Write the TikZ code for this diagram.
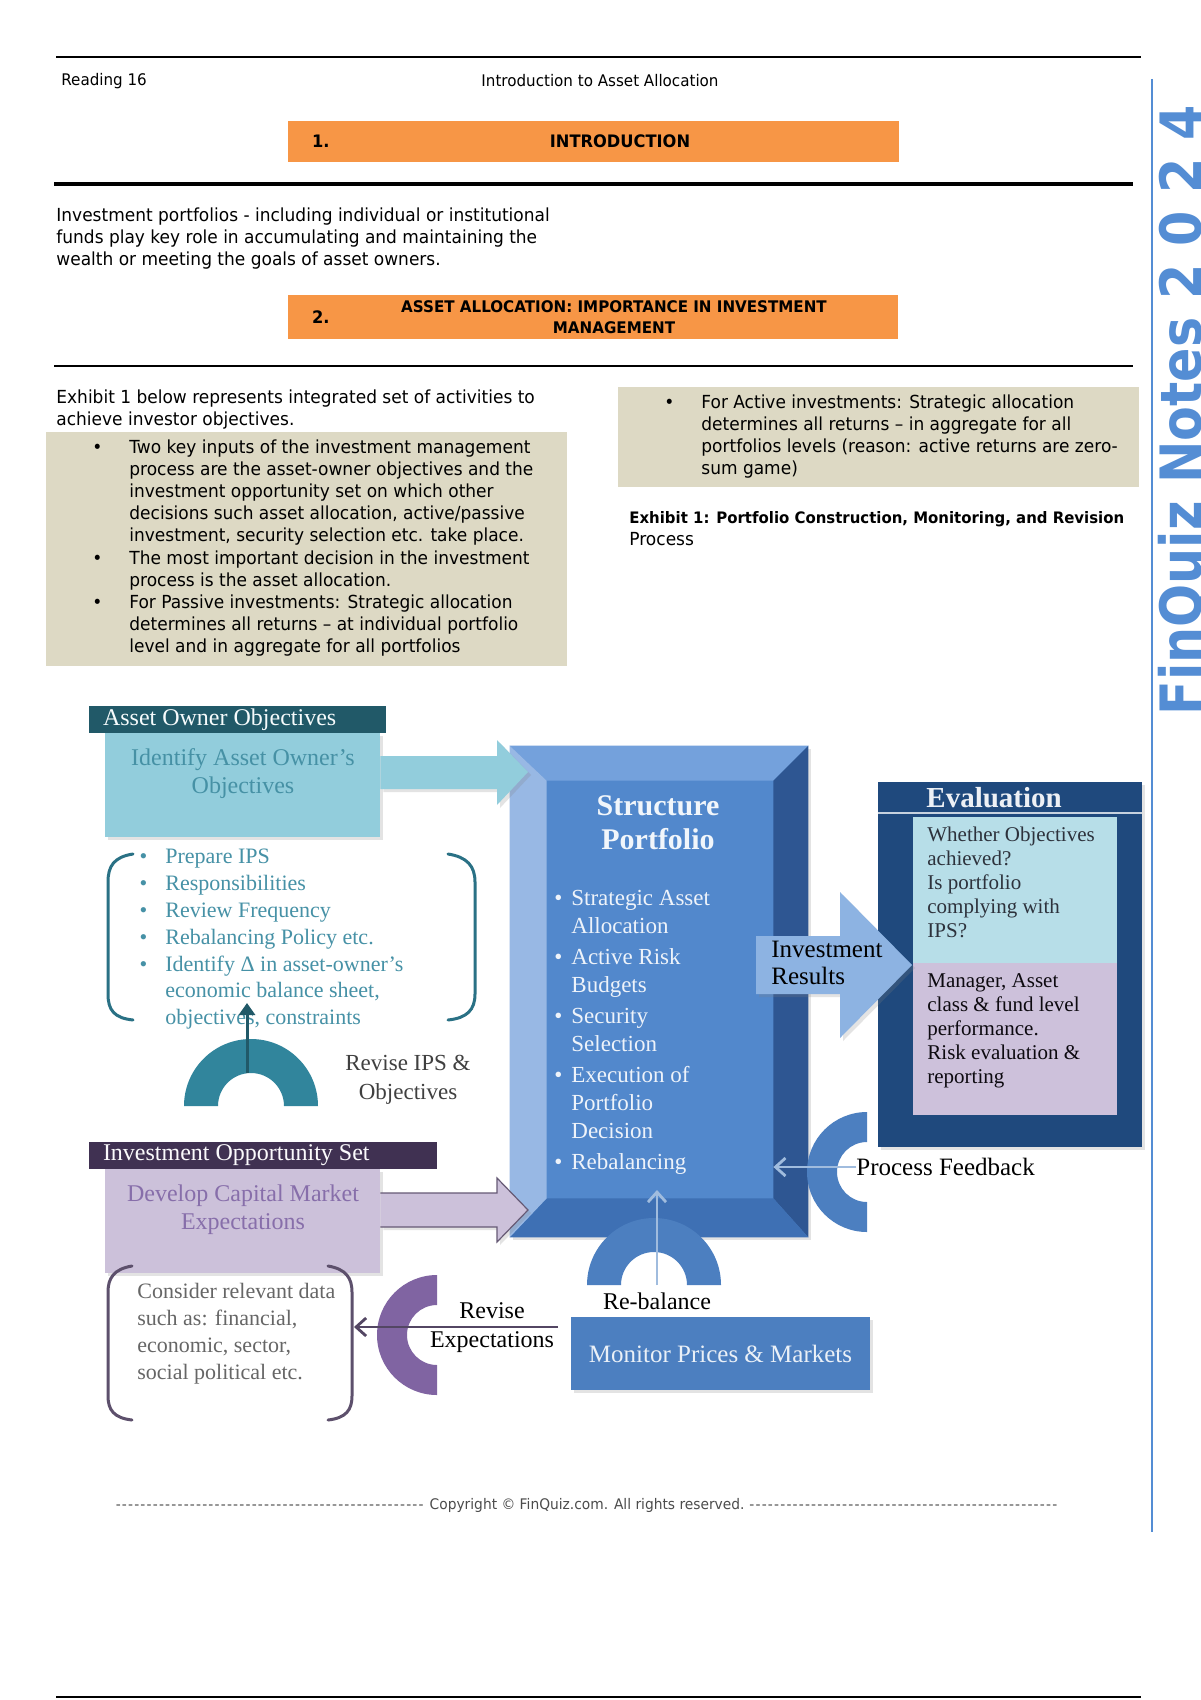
\documentclass[tikz,border=0pt]{standalone}
\usepackage{fontspec}
\setmainfont{Liberation Serif}
\newfontfamily\fqBody[FakeStretch=0.945]{DejaVu Sans}
\newfontfamily\fqBrand[FakeStretch=0.89]{DejaVu Sans}
\usepackage{xcolor}
\definecolor{fqOrange}{RGB}{247,150,70}
\definecolor{fqBeige}{RGB}{221,217,196}
\definecolor{fqBrandBlue}{RGB}{84,141,212}
\definecolor{fqTealDark}{RGB}{33,89,104}
\definecolor{fqTealLight}{RGB}{146,205,220}
\definecolor{fqTealText}{RGB}{70,145,165}
\definecolor{fqTeal}{RGB}{49,133,156}
\definecolor{fqPurpleDark}{RGB}{64,49,82}
\definecolor{fqPurpleLight}{RGB}{204,193,218}
\definecolor{fqPurpleText}{RGB}{135,110,170}
\definecolor{fqPurple}{RGB}{128,100,162}
\definecolor{fqFace}{RGB}{82,136,204}
\definecolor{fqBevelTop}{RGB}{116,161,220}
\definecolor{fqBevelLeft}{RGB}{152,184,228}
\definecolor{fqBevelRight}{RGB}{46,86,146}
\definecolor{fqBevelBottom}{RGB}{62,112,180}
\definecolor{fqNavy}{RGB}{31,73,125}
\definecolor{fqEvalTop}{RGB}{183,222,232}
\definecolor{fqEvalBottom}{RGB}{205,193,219}
\definecolor{fqArrowBlue}{RGB}{141,179,226}
\definecolor{fqMid}{RGB}{76,127,192}
\definecolor{fqPale}{RGB}{160,188,222}
\definecolor{fqInk}{RGB}{45,50,60}
\usepackage{tikz}
\usetikzlibrary{arrows.meta,positioning,fit,calc,shadows}

\newcommand{\fqDot}[1]{\leavevmode\llap{\textbullet\hspace{#1}}}

\begin{document}
\begin{tikzpicture}[
    x=0.5pt, y=-0.5pt,
    pageText/.style={
        font=\fqBody\fontsize{9}{11.1}\selectfont,
        align=left, anchor=north west, inner sep=0pt
    },
    headText/.style={font=\fqBody\fontsize{8}{10}\selectfont, inner sep=0pt},
    secBar/.style={fill=fqOrange, inner sep=0pt},
    secText/.style={
        font=\fqBody\bfseries\fontsize{8.6}{10.5}\selectfont,
        align=center, inner sep=0pt
    },
    noteBox/.style={fill=fqBeige, inner sep=0pt},
    softShadow/.style={
        drop shadow={opacity=0.22, shadow xshift=1.5pt, shadow yshift=-1.5pt}
    },
    tagBar/.style={inner sep=0pt},
    tagText/.style={
        font=\fontsize{12}{14}\selectfont, text=white!92!fqTealLight,
        anchor=west, inner sep=0pt
    },
    stageText/.style={font=\fontsize{12}{14}\selectfont, align=center, inner sep=0pt},
    listText/.style={
        font=\fontsize{11}{13.4}\selectfont,
        align=left, anchor=north west, inner sep=0pt
    },
    portText/.style={
        font=\fontsize{11.5}{14}\selectfont, text=white!90!fqFace,
        align=left, anchor=north west, inner sep=0pt
    },
    evalText/.style={
        font=\fontsize{10.5}{12}\selectfont, text=fqInk,
        align=left, anchor=north west, inner sep=0pt
    },
    labelText/.style={font=\fontsize{12}{14.5}\selectfont, align=center, inner sep=0pt},
    bracketLine/.style={line width=1.5pt, line cap=round},
    flowArrow/.style={line width=1.4pt, -{Straight Barb[length=5pt, width=9pt]}}
]

    % page frame
    \fill[white] (0,0) rectangle (1200,1700);
    \useasboundingbox (0,0) rectangle (1200,1700);

    % header
    \draw[line width=1pt] (56,57) -- (1141,57);
    \node[headText, anchor=west] (readingNo) at (61,81) {Reading 16};
    \node[headText] (readingTitle) at (600,81) {Introduction to Asset Allocation};

    \node[secBar, fit={(288,121) (899,162)}] (secOne) {};
    \node[secText, anchor=west] at ($(secOne.west)+(24,0)$) {1.};
    \node[secText] at (620,141.5) {INTRODUCTION};
    \draw[line width=1.6pt] (54,184) -- (1133,184);

    \node[pageText] (introPara) at (56,207) {Investment portfolios - including individual or institutional\\
        funds play key role in accumulating and maintaining the\\
        wealth or meeting the goals of asset owners.};

    \node[secBar, fit={(288,295) (898,339)}] (secTwo) {};
    \node[secText, anchor=west] at ($(secTwo.west)+(24,0)$) {2.};
    \node[secText, font=\fqBody\bfseries\fontsize{8}{10.5}\selectfont] at (614,317)
        {ASSET ALLOCATION: IMPORTANCE IN INVESTMENT\\MANAGEMENT};
    \draw[line width=1.3pt] (54,366) -- (1133,366);

    % side brand
    \draw[fqBrandBlue, line width=1.3pt] (1152,79) -- (1152,1532);
    \node[font=\fqBrand\bfseries\fontsize{28.5}{30}\selectfont, text=fqBrandBlue, rotate=90,
        anchor=base west, inner sep=0pt] (brand) at (1201,716) {FinQuiz Notes 2 0 2 4};

    % notes
    \node[pageText] (exhibitIntro) at (56,389) {Exhibit 1 below represents integrated set of activities to\\
        achieve investor objectives.};

    \node[noteBox, fit={(46,432) (567,666)}] (passiveNote) {};
    \node[pageText] at (129,439) {\fqDot{13.5pt}Two key inputs of the investment management\\
        process are the asset-owner objectives and the\\
        investment opportunity set on which other\\
        decisions such asset allocation, active/passive\\
        investment, security selection etc. take place.\\
        \fqDot{13.5pt}The most important decision in the investment\\
        process is the asset allocation.\\
        \fqDot{13.5pt}For Passive investments: Strategic allocation\\
        determines all returns – at individual portfolio\\
        level and in aggregate for all portfolios};

    \node[noteBox, fit={(618,387) (1139,487)}] (activeNote) {};
    \node[pageText] at (701,394) {\fqDot{13.5pt}For Active investments: Strategic allocation\\
        determines all returns – in aggregate for all\\
        portfolios levels (reason: active returns are zero-\\
        sum game)};

    \node[pageText] (exhibitTitle) at (629,511)
        {{\bfseries\fontsize{7.9}{11.1}\selectfont Exhibit 1: Portfolio Construction, Monitoring, and Revision}\\Process};

    % structure portfolio (bevelled block)
    \node[fit={(510,746) (808,1237)}, inner sep=0pt, fill=fqFace, softShadow] (portfolio) {};
    \node[fit={(547,781) (773,1198)}, inner sep=0pt] (portFace) {};
    \fill[fqBevelTop] (portfolio.north west) -- (portfolio.north east)
        -- (portFace.north east) -- (portFace.north west) -- cycle;
    \fill[fqBevelRight] (portfolio.north east) -- (portfolio.south east)
        -- (portFace.south east) -- (portFace.north east) -- cycle;
    \fill[fqBevelBottom] (portfolio.south west) -- (portfolio.south east)
        -- (portFace.south east) -- (portFace.south west) -- cycle;
    \fill[fqBevelLeft] (portfolio.north west) -- (portfolio.south west)
        -- (portFace.south west) -- (portFace.north west) -- cycle;
    \node[font=\bfseries\fontsize{15}{17}\selectfont, text=white!92!fqFace, align=center,
        inner sep=0pt] (portTitle) at (658,823) {Structure\\Portfolio};
    \node[portText] (portList) at (571,890) {\fqDot{4.5pt}Strategic Asset\\Allocation\\[1.5pt]
        \fqDot{4.5pt}Active Risk\\Budgets\\[1.5pt]
        \fqDot{4.5pt}Security\\Selection\\[1.5pt]
        \fqDot{4.5pt}Execution of\\Portfolio\\Decision\\[1.5pt]
        \fqDot{4.5pt}Rebalancing};

    % evaluation
    \node[fit={(878,782) (1142,1147)}, inner sep=0pt, fill=fqNavy, softShadow] (evalBox) {};
    \draw[white!75!fqNavy, line width=0.8pt] (evalBox.west |- 0,813) -- (evalBox.east |- 0,813);
    \node[font=\bfseries\fontsize{14.5}{16}\selectfont, text=white!92!fqNavy, anchor=west,
        inner sep=0pt] (evalTitle) at (926,798) {Evaluation};
    \node[fit={(913,817) (1117,963)}, inner sep=0pt, fill=fqEvalTop] (evalCheck) {};
    \node[fit={(913,963) (1117,1115)}, inner sep=0pt, fill=fqEvalBottom] (evalPerf) {};
    \node[evalText] at (927,827) {Whether Objectives\\achieved?\\Is portfolio\\complying with\\IPS?};
    \node[evalText, text=black!80!fqPurpleDark] at (927,973)
        {Manager, Asset\\class \& fund level\\performance.\\Risk evaluation \&\\reporting};

    % asset owner objectives
    \node[fit={(105,733) (380,837)}, inner sep=0pt, fill=fqTealLight, softShadow] (ownerBox) {};
    \fill[fqTealLight, softShadow] (ownerBox.east |- 0,756) -- (497,756) -- (497,740)
        -- (528,772) -- (497,805) -- (497,789) -- (ownerBox.east |- 0,789) -- cycle;
    \node[tagBar, fill=fqTealDark, fit={(89,706) (386,733)}] (ownerTag) {};
    \node[tagText] at ($(ownerTag.west)+(14,0)$) {Asset Owner Objectives};
    \node[stageText, text=fqTealText] at (243,774) {Identify Asset Owner’s\\Objectives};

    \draw[bracketLine, draw=fqTeal!85!black] (133,854) .. controls (114,857) and (108,866) .. (108,882)
        -- (108,994) .. controls (108,1010) and (114,1018) .. (133,1020);
    \draw[bracketLine, draw=fqTeal!85!black] (448,854) .. controls (467,857) and (475,866) .. (475,882)
        -- (475,994) .. controls (475,1010) and (467,1018) .. (448,1020);
    \node[listText, text=fqTeal!90!white] (ipsList) at (165,849) {\fqDot{9pt}Prepare IPS\\
        \fqDot{9pt}Responsibilities\\
        \fqDot{9pt}Review Frequency\\
        \fqDot{9pt}Rebalancing Policy etc.\\
        \fqDot{9pt}Identify Δ in asset-owner’s\\
        economic balance sheet,\\
        objectives, constraints};

    \fill[fqTeal] (184,1106) arc[start angle=180, end angle=360, radius=67]
        -- (284,1106) arc[start angle=0, end angle=-180, radius=33] -- cycle;
    \coordinate (ipsArcTop) at (247,1073);
    \coordinate (ipsTip) at (247,1003);
    \draw[fqTealDark, line width=1.5pt, -{Triangle[length=6pt, width=8pt]}] (ipsArcTop) -- (ipsTip);
    \node[labelText, font=\fontsize{11.5}{14.5}\selectfont, text=black!75] (ipsLabel) at (408,1080)
        {Revise IPS \&\\Objectives};

    % investment opportunity set
    \node[fit={(105,1169) (380,1273)}, inner sep=0pt, fill=fqPurpleLight, softShadow] (marketBox) {};
    \fill[fqPurpleLight, softShadow] (marketBox.east |- 0,1193) -- (497,1193) -- (497,1178)
        -- (528,1210) -- (497,1242) -- (497,1227) -- (marketBox.east |- 0,1227) -- cycle;
    \draw[fqPurpleDark!80, line width=0.6pt] (marketBox.east |- 0,1193) -- (497,1193) -- (497,1178)
        -- (528,1210) -- (497,1242) -- (497,1227) -- (marketBox.east |- 0,1227);
    \node[tagBar, fill=fqPurpleDark, fit={(89,1142) (437,1169)}] (marketTag) {};
    \node[tagText, text=white!92!fqPurpleLight] at ($(marketTag.west)+(14,0)$) {Investment Opportunity Set};
    \node[stageText, text=fqPurpleText] at (243,1210) {Develop Capital Market\\Expectations};

    \draw[bracketLine, draw=fqPurpleDark!85] (132,1266) .. controls (114,1269) and (108,1278) .. (108,1292)
        -- (108,1396) .. controls (108,1410) and (114,1418) .. (132,1420);
    \draw[bracketLine, draw=fqPurpleDark!85] (328,1266) .. controls (346,1269) and (352,1278) .. (352,1292)
        -- (352,1396) .. controls (352,1410) and (346,1418) .. (328,1420);
    \node[listText, text=black!60] (dataList) at (137,1283) {Consider relevant data\\
        such as: financial,\\economic, sector,\\social political etc.};

    \fill[fqPurple] (437,1275) arc[start angle=270, end angle=90, radius=60]
        -- (437,1365) arc[start angle=90, end angle=270, radius=30] -- cycle;

    % investment results
    \fill[fqArrowBlue, softShadow] (756,936) -- (840,936) -- (840,892) -- (912,965)
        -- (840,1038) -- (840,994) -- (756,994) -- cycle;
    \node[labelText, font=\fontsize{12.5}{13.5}\selectfont, align=left, anchor=north west]
        (resultLabel) at (771,941) {Investment\\Results};

    % feedback
    \fill[fqMid] (867,1112) arc[start angle=270, end angle=90, radius=60]
        -- (867,1202) arc[start angle=90, end angle=270, radius=30] -- cycle;
    \node[labelText, font=\fontsize{12.5}{14}\selectfont, anchor=west] (feedLabel) at (856,1167)
        {Process Feedback};
    \draw[flowArrow, fqPale] (feedLabel.west) -- (feedLabel.west -| portFace.east);

    % monitoring
    \fill[fqMid] (587,1285) arc[start angle=180, end angle=360, radius=67]
        -- (687,1285) arc[start angle=0, end angle=-180, radius=33] -- cycle;
    \coordinate (rebalBase) at (657,1285);
    \coordinate (rebalTip) at (657,1190);
    \draw[flowArrow, fqPale] (rebalBase) -- (rebalTip);
    \node[labelText] (rebalLabel) at (657,1301) {Re-balance};

    \node[fit={(571,1317) (870,1390)}, inner sep=0pt, fill=fqMid, softShadow] (monitor) {};
    \node[labelText, font=\fontsize{12.5}{14}\selectfont, text=white!88!fqMid] at (monitor.center)
        {Monitor Prices \& Markets};

    \coordinate (expFrom) at (558,1327);
    \coordinate (expTo) at (354,1327);
    \draw[flowArrow, fqPurpleDark!90] (expFrom) -- (expTo);
    \node[labelText] (expLabel) at (492,1328) {Revise\\Expectations};

    % footer
    \node[font=\fqBody\fontsize{7.3}{9}\selectfont, text=black!70, inner sep=0pt] (copyright) at (587,1505)
        {\hbox to 155pt{\cleaders\hbox{-\kern0.6pt}\hfill}\ Copyright © FinQuiz.com. All rights reserved.\ \hbox to 155pt{\cleaders\hbox{-\kern0.6pt}\hfill}};
    \draw[line width=0.8pt] (56,1697) -- (1141,1697);

\end{tikzpicture}
\end{document}
